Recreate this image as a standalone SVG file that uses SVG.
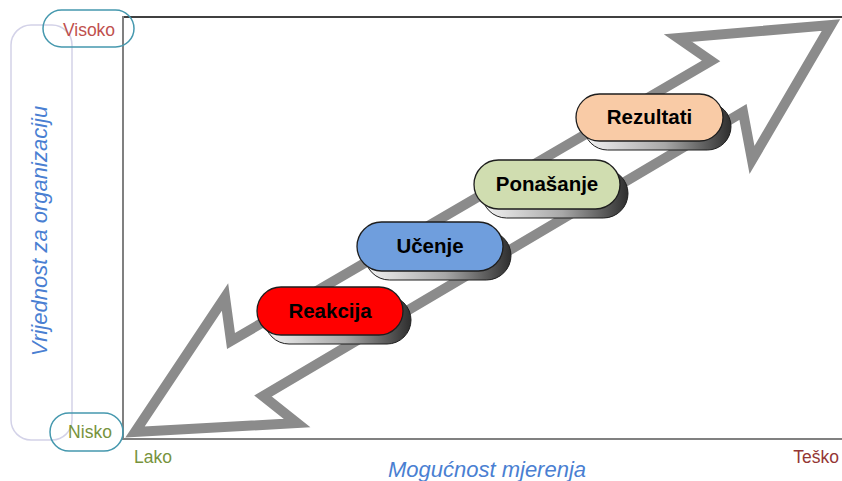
<svg xmlns="http://www.w3.org/2000/svg" width="842" height="481" viewBox="0 0 842 481">
<defs>
<linearGradient id="shade" x1="0" y1="0" x2="1" y2="0">
<stop offset="0" stop-color="#f4f4f4"/>
<stop offset="0.55" stop-color="#a8a8a8"/>
<stop offset="1" stop-color="#2e2e2e"/>
</linearGradient>
</defs>
<style>
.shadow{fill:url(#shade);stroke:#1e1e1e;stroke-width:1}
.pill{stroke:#1e1e1e;stroke-width:1.3}
.lbl{font-family:"Liberation Sans",Arial,sans-serif;font-weight:bold;font-size:20.5px;fill:#000;text-anchor:middle}
.ax{font-family:"Liberation Sans",Arial,sans-serif;font-size:17.5px}
.title{font-family:"Liberation Sans",Arial,sans-serif;font-style:italic;font-size:22px;fill:#4a7fd2;text-anchor:middle}
.tag{fill:none;stroke:#4598ae;stroke-width:1.5}
</style>
<rect width="842" height="481" fill="#ffffff"/>

<g id="side-frame">
<rect x="11" y="25" width="61" height="415" rx="20" ry="20" fill="none" stroke="#d3d2e8" stroke-width="1.5"/>
<text class="title" transform="translate(47,231) rotate(-90)" x="0" y="0">Vrijednost za organizaciju</text>
</g>

<g id="connectors">
<line x1="123" y1="17" x2="842" y2="17" stroke="#000" stroke-width="1.5"/>
<line x1="123" y1="16" x2="123" y2="440" stroke="#808080" stroke-width="2"/>
<line x1="122" y1="439" x2="842" y2="439" stroke="#808080" stroke-width="2"/>
</g>

<g id="arrow">
<polygon points="135,432 225,297 231,341 711,61 678,38 831,25 752,160 743,112 263,396 297,423" fill="none" stroke="#8b8b8b" stroke-width="10" stroke-linejoin="miter" stroke-miterlimit="10"/>
</g>

<g id="visoko">
<rect class="tag" x="43" y="10" width="91" height="37" rx="18.5" ry="18.5"/>
<text class="ax" x="89" y="36" text-anchor="middle" fill="#c0504d">Visoko</text>
</g>
<g id="nisko">
<rect class="tag" x="50" y="413" width="73" height="38" rx="19" ry="19"/>
<text class="ax" x="90" y="438" text-anchor="middle" fill="#77933c">Nisko</text>
</g>
<g id="lako">
<text class="ax" x="134" y="463" fill="#77933c">Lako</text>
</g>
<g id="tesko">
<text class="ax" x="839" y="463" text-anchor="end" fill="#943634">Teško</text>
</g>
<g id="x-title">
<text class="title" x="487" y="477">Mogućnost mjerenja</text>
</g>

<g id="reakcija">
<rect class="shadow" x="265" y="296" width="146" height="48" rx="24" ry="24"/>
<rect class="pill" x="257" y="287" width="146" height="48" rx="24" ry="24" fill="#ff0000"/>
<text class="lbl" x="330" y="318">Reakcija</text>
</g>
<g id="ucenje">
<rect class="shadow" x="365" y="231" width="146" height="49" rx="24.5" ry="24.5"/>
<rect class="pill" x="357" y="222" width="146" height="49" rx="24.5" ry="24.5" fill="#6f9edd"/>
<text class="lbl" x="430" y="253">Učenje</text>
</g>
<g id="ponasanje">
<rect class="shadow" x="482" y="169" width="146" height="49" rx="24.5" ry="24.5"/>
<rect class="pill" x="474" y="160" width="146" height="49" rx="24.5" ry="24.5" fill="#d0ddb0"/>
<text class="lbl" x="547" y="191">Ponašanje</text>
</g>
<g id="rezultati">
<rect class="shadow" x="584" y="103" width="147" height="47" rx="23.5" ry="23.5"/>
<rect class="pill" x="576" y="94" width="147" height="47" rx="23.5" ry="23.5" fill="#f9cba6"/>
<text class="lbl" x="649.5" y="124">Rezultati</text>
</g>
</svg>
